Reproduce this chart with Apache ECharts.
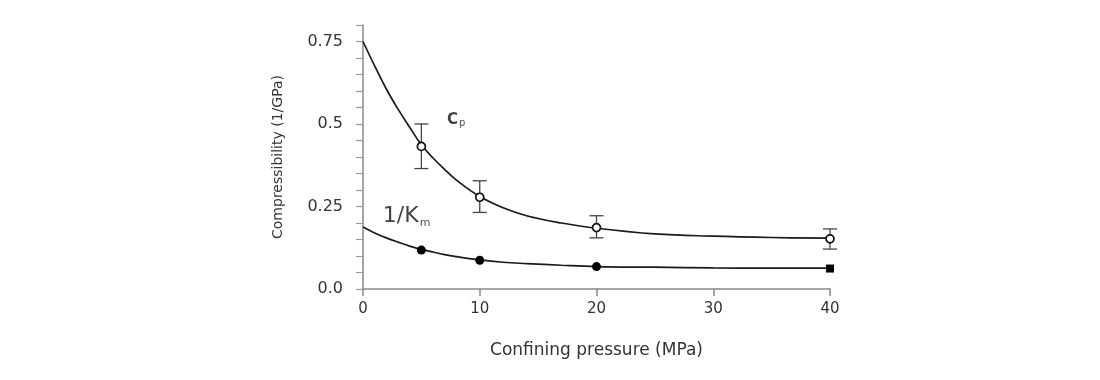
<!DOCTYPE html>
<html>
<head>
<meta charset="utf-8">
<script src="https://cdn.jsdelivr.net/npm/echarts@6/dist/echarts.min.js"></script>
<style>html,body{margin:0;padding:0;background:#fff;}#chart{width:1100px;height:380px;}</style>
</head>
<body>
<div id="chart"></div>
<script>
// Pressure values (MPa) of the measurements
const pressures = [5, 10, 20, 40];
// Cp (open circles) with error bar bounds
const cpValues = [0.432, 0.278, 0.186, 0.152];
const cpLow = [0.365, 0.232, 0.155, 0.121];
const cpHigh = [0.500, 0.328, 0.222, 0.182];
// 1/Km (filled markers)
const kmValues = [0.118, 0.087, 0.068, 0.062];
const kmSymbols = ['circle', 'circle', 'circle', 'rect'];
// Fitted curves
const curveP = [0, 1, 2, 3, 4, 5, 6, 7, 8, 10, 12, 14, 17, 20, 25, 30, 35, 40];
const cpCurve = [0.750, 0.676, 0.606, 0.545, 0.490, 0.437, 0.397, 0.362, 0.330, 0.280, 0.246, 0.222, 0.200, 0.184, 0.167, 0.160, 0.156, 0.154];
const kmCurve = [0.188, 0.170, 0.155, 0.142, 0.130, 0.120, 0.112, 0.104, 0.098, 0.088, 0.081, 0.077, 0.072, 0.068, 0.066, 0.064, 0.063, 0.063];
// Axis tick labels
const yLabels = [0, 0.25, 0.5, 0.75];
const xTicks = [0, 10, 20, 30, 40];
// Curve annotations [x, y, name]
const annotations = [[7.2, 0.513, 'cp'], [1.7, 0.219, 'km']];

const FONT = 'DejaVu Sans';
const chart = echarts.init(document.getElementById('chart'), null, {renderer: 'canvas'});

const errData = pressures.map((p, i) => [p, cpLow[i], cpHigh[i]]);

chart.setOption({
  animation: false,
  backgroundColor: '#ffffff',
  grid: {left: 363, right: 270, top: 25, bottom: 91, containLabel: false},
  xAxis: {
    type: 'value', min: xTicks[0], max: xTicks[xTicks.length - 1], interval: 10,
    name: 'Confining pressure (MPa)', nameLocation: 'middle', nameGap: 53,
    nameTextStyle: {fontFamily: FONT, fontSize: 17, color: '#333'},
    axisLine: {show: true, lineStyle: {color: '#888', width: 1.5}},
    axisTick: {show: true, length: 7, lineStyle: {color: '#888', width: 1.5}},
    axisLabel: {fontFamily: FONT, fontSize: 15, color: '#333', margin: 13},
    splitLine: {show: false}
  },
  yAxis: {
    type: 'value', min: 0, max: 0.8, interval: 0.05,
    name: 'Compressibility (1/GPa)', nameLocation: 'middle', nameGap: 78,
    nameTextStyle: {fontFamily: FONT, fontSize: 14, color: '#333'},
    axisLine: {show: true, lineStyle: {color: '#888', width: 1.5}},
    axisTick: {show: true, length: 7, lineStyle: {color: '#999', width: 1.2}},
    axisLabel: {
      fontFamily: FONT, fontSize: 16, color: '#333', margin: 20,
      formatter: function (v) {
        for (const l of yLabels) {
          if (Math.abs(v - l) < 1e-6) return l === 0 ? '0.0' : String(l);
        }
        return '';
      }
    },
    splitLine: {show: false}
  },
  series: [
    {
      type: 'line', name: 'Cp fit', data: curveP.map((p, i) => [p, cpCurve[i]]),
      smooth: 0.4, showSymbol: false, symbol: 'none',
      lineStyle: {color: '#1a1a1a', width: 1.7}, z: 2
    },
    {
      type: 'line', name: '1/Km fit', data: curveP.map((p, i) => [p, kmCurve[i]]),
      smooth: 0.4, showSymbol: false, symbol: 'none',
      lineStyle: {color: '#1a1a1a', width: 1.7}, z: 2
    },
    {
      type: 'custom', name: 'Cp error',
      data: errData,
      renderItem: function (params, api) {
        const x = api.value(0);
        const lo = api.coord([x, api.value(1)]);
        const hi = api.coord([x, api.value(2)]);
        const w = 7;
        const st = {stroke: '#444', lineWidth: 1.3};
        return {
          type: 'group',
          children: [
            {type: 'line', shape: {x1: lo[0], y1: lo[1], x2: hi[0], y2: hi[1]}, style: st},
            {type: 'line', shape: {x1: lo[0] - w, y1: lo[1], x2: lo[0] + w, y2: lo[1]}, style: st},
            {type: 'line', shape: {x1: hi[0] - w, y1: hi[1], x2: hi[0] + w, y2: hi[1]}, style: st}
          ]
        };
      },
      z: 3
    },
    {
      type: 'scatter', name: 'Cp', data: pressures.map((p, i) => [p, cpValues[i]]),
      symbol: 'circle', symbolSize: 8,
      itemStyle: {color: '#fff', borderColor: '#111', borderWidth: 1.7, opacity: 1}, z: 4
    },
    {
      type: 'scatter', name: '1/Km',
      data: pressures.map((p, i) => ({value: [p, kmValues[i]], symbol: kmSymbols[i], symbolSize: kmSymbols[i] === 'rect' ? 8 : 9})),
      itemStyle: {color: '#000', opacity: 1}, z: 4
    },
    {
      type: 'scatter', name: 'labels', symbolSize: 0, silent: true,
      data: annotations.map(a => ({value: [a[0], a[1]], name: a[2]})),
      label: {
        show: true, position: [0, 0], align: 'left', verticalAlign: 'middle',
        formatter: function (p) {
          return p.name === 'cp' ? '{c|C}{cs|p}' : '{k|1/K}{ks|m}';
        },
        rich: {
          c: {fontFamily: FONT, fontSize: 15, fontWeight: 'bold', color: '#111', lineHeight: 17},
          cs: {fontFamily: FONT, fontSize: 10, color: '#222', verticalAlign: 'bottom', lineHeight: 10, padding: [7, 0, 0, 1]},
          k: {fontFamily: FONT, fontSize: 22, color: '#111', lineHeight: 24},
          ks: {fontFamily: FONT, fontSize: 11, color: '#222', verticalAlign: 'bottom', lineHeight: 11, padding: [11, 0, 0, 1]}
        }
      },
      z: 5
    }
  ]
});
</script>
</body>
</html>
